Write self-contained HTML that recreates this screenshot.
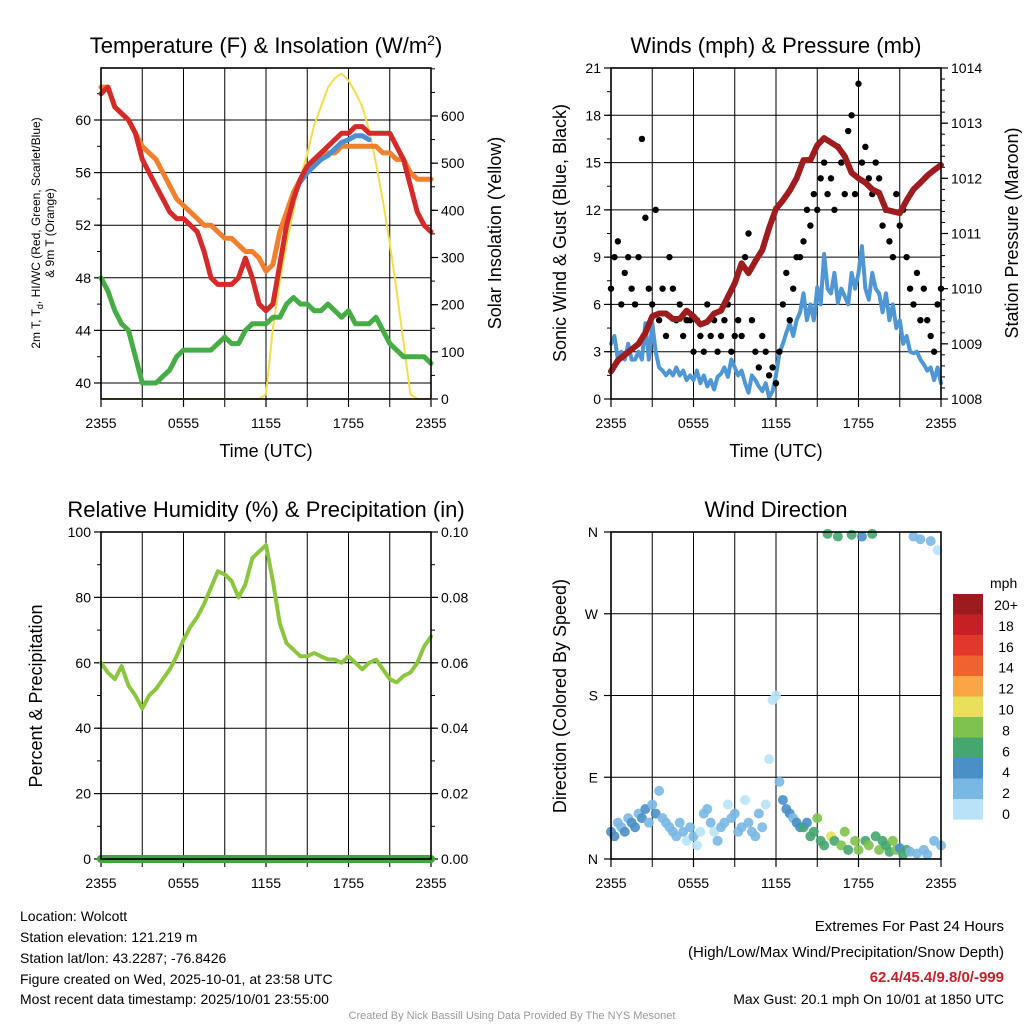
<!DOCTYPE html>
<html><head><meta charset="utf-8"><style>
html,body{margin:0;padding:0;background:#fff;}
svg{display:block;font-family:"Liberation Sans",sans-serif;}
</style></head><body>
<svg id="chart" width="1024" height="1024" viewBox="0 0 1024 1024" xmlns="http://www.w3.org/2000/svg">
<g id="layer"></g>
<g font-size="14" fill="#000">
<text x="20" y="921">Location: Wolcott</text>
<text x="20" y="942">Station elevation: 121.219 m</text>
<text x="20" y="963">Station lat/lon: 43.2287; -76.8426</text>
<text x="20" y="984">Figure created on Wed, 2025-10-01, at 23:58 UTC</text>
<text x="20" y="1004">Most recent data timestamp: 2025/10/01 23:55:00</text>
</g>
<g font-size="15" text-anchor="end">
<text x="1004" y="931">Extremes For Past 24 Hours</text>
<text x="1004" y="957">(High/Low/Max Wind/Precipitation/Snow Depth)</text>
<text x="1004" y="982" fill="#c8202a" font-weight="bold">62.4/45.4/9.8/0/-999</text>
<text x="1004" y="1004" font-size="14">Max Gust: 20.1 mph On 10/01 at 1850 UTC</text>
</g>
<text x="512" y="1019" font-size="11" fill="#999" text-anchor="middle">Created By Nick Bassill Using Data Provided By The NYS Mesonet</text>
</svg>
<script>
// ---- data (30-min samples from 2355 UTC) ----
const xTickLabels = ["2355","0555","1155","1755","2355"];
const tempRed = [62,62.5,61,60.5,60,59,57,56,55,54,53,52.5,52.5,52,51.5,50,48,47.5,47.5,47.5,48,49.5,48,46,45.5,46,49,52,54,55.5,56.5,57,57.5,58,58.5,59,59,59.5,59.5,59,59,59,59,58,57,55,53,52,51.5];
const tempOrange = [62.5,62.5,61,60.5,60,59,58,57.5,57,56,55,54,53.5,53,52.5,52,52,51.5,51,51,50.5,50,50,49.5,48.5,49,51.5,53,54.5,55.5,56,56.5,57,57.5,57.5,58,58,58,58,58,58,57.5,57.5,57,57,56,55.5,55.5,55.5];
const dewGreen = [48,47,45.5,44.5,44,42,40,40,40,40.5,41,42,42.5,42.5,42.5,42.5,42.5,43,43.5,43,43,44,44.5,44.5,44.5,45,45,46,46.5,46,46,45.5,45.5,46,45.5,45,45.5,44.5,44.5,44.5,45,44,43,42.5,42,42,42,42,41.5];
const hiwcBlue = [null,null,null,null,null,null,null,null,null,null,null,null,null,null,null,null,null,null,null,null,null,null,null,null,null,null,null,null,null,55.3,56,56.5,57,57.3,57.8,58.3,58.5,58.8,58.8,58.5,null,null,null,null,null,null,null,null,null];
const solar = [0,0,0,0,0,0,0,0,0,0,0,0,0,0,0,0,0,0,0,0,0,0,0,0,10,150,250,330,400,470,520,580,620,660,680,690,675,650,620,570,500,420,330,230,120,10,0,0,0];
const pressure = [1008.5,1008.7,1008.8,1008.9,1009.0,1009.2,1009.5,1009.55,1009.55,1009.45,1009.45,1009.6,1009.5,1009.35,1009.4,1009.55,1009.6,1009.85,1010.1,1010.46,1010.28,1010.5,1010.7,1011.1,1011.45,1011.6,1011.78,1012.0,1012.33,1012.33,1012.6,1012.73,1012.65,1012.57,1012.4,1012.1,1012.0,1011.92,1011.8,1011.74,1011.43,1011.4,1011.37,1011.6,1011.8,1011.92,1012.05,1012.15,1012.24];
const rh = [60,57,55,59,53,50,46,50,52,55,58,62,67,71,74,78,83,88,87,85,80,84,92,94,96,85,72,66,64,62,62,63,62,61,61,60,62,60,58,60,61,58,55,54,56,57,60,65,68];
const precip = [0,0,0,0,0,0,0,0,0,0,0,0,0,0,0,0,0,0,0,0,0,0,0,0,0,0,0,0,0,0,0,0,0,0,0,0,0,0,0,0,0,0,0,0,0,0,0,0,0];
// 15-min samples
const sonicWind = [3.5,4,2.5,3,2.5,3.5,2.5,2.5, 3,2.5,4.8,2.5,4.8,3,2,1.8, 1.5,1.8,1.5,2,1.5,1.8,1.2,1.5, 1.2,1.8,1,1.5,0.8,1.2,0.6,1.4, 1.6,2,1.4,2.5,2,1.5,1.8,1, 0.4,1.5,1.2,0.8,0.5,1,0.1,0.5, 1.5,2.9,3.5,4.2,4.8,4,5,5.5, 6.7,5,6,5,7.1,6,9.2,7, 6.7,8,6.1,7,6.5,6,8,7, 8,9.7,7,6.3,8,7,6.7,5.5, 6.7,5,6,4.5,5,3.5,4,3, 2.9,3,2.5,2.2,1.8,2,1.2,2, 1];
const gust = [7,9,10,6,8,9,7,6, 9,16.5,11.5,7,6,12,5,7, 4,9,7,5,6,4,5,5, 3,5,4,3,6,4,5,3, 4,5,6,3,4,5,4,9, 10.5,5,3,2,4,3,1.5,2, 1,3,6,8,5,7,9,9, 10,12,11,13,12,14,15,13, 14,12,16,15,13,17,18,13, 20,15,16,14,13,15,14,11, 12,10,9,13,11,12,9,7, 6,8,5,7,5,4,3,6, 7];
const windDir = [30,25,40,35,30,45,40,35, 50,45,55,40,60,50,75,45, 40,35,30,25,40,30,20,35, 25,15,30,50,55,40,30,20, 35,40,60,45,50,30,35,65, 40,30,25,50,35,60,110,175, 180,85,65,55,50,45,40,35, 35,40,25,30,45,20,15,358, 25,20,355,15,30,10,357,20, 10,355,20,15,358,25,10,20, 15,8,20,10,12,5,10,8, 355,6,352,10,5,350,20,340, 15];
const windSpd = [4,4,3,3,4,3,4,4, 3,4,4,3,2,4,3,3, 2,3,2,2,3,2,1,2, 2,1,1,3,2,2,1,2, 2,3,1,2,3,2,2,1, 2,2,3,2,2,1,1,1, 1,3,4,4,4,3,4,5, 6,5,6,7,8,6,7,6, 10,7,6,9,8,7,6,8, 9,4,7,8,6,7,8,6, 7,6,8,9,5,7,6,3, 3,2,3,2,2,3,2,1, 2];
const cbLabels = ["20+","18","16","14","12","10","8","6","4","2","0"];
const cbColors = ["#9b1b1e","#c42026","#e0382b","#f0632e","#f8a646","#e8e05a","#7fc24f","#46a670","#4a8fc6","#7ab8e4","#b8e2f8"];

const NS="http://www.w3.org/2000/svg";
const layer=document.getElementById('layer');
function mk(tag,attrs,parent){const e=document.createElementNS(NS,tag);for(const k in attrs)e.setAttribute(k,attrs[k]);(parent||layer).appendChild(e);return e;}
function lin(d0,d1,r0,r1){return v=>r0+(v-d0)*(r1-r0)/(d1-d0);}
function txt(x,y,s,attrs,parent){const t=mk('text',Object.assign({x:x,y:y},attrs||{}),parent);t.textContent=s;return t;}

function panel(px0,px1,py0,py1,title,name){
  const g=mk('g',{});
  
  
  const X=lin(0,24,px0,px1);
  for(let h=3;h<24;h+=3){const l=mk('line',{x1:X(h),x2:X(h),y1:py0,y2:py1,stroke:'#000','stroke-width':1},g);
    }
  xTickLabels.forEach((s,i)=>{const h=i*6;
    mk('line',{x1:X(h),x2:X(h),y1:py1,y2:py1+8,stroke:'#000','stroke-width':1.2},g);
    const t=txt(X(h),py1+29,s,{'font-size':14,'text-anchor':'middle'},g);
    });
  for(let h=0;h<=24;h+=3){mk('line',{x1:X(h),x2:X(h),y1:py1,y2:py1+8,stroke:'#000','stroke-width':1},g);}
  const tt=txt((px0+px1)/2,py0-15,title,{'font-size':22,'text-anchor':'middle'},g);
  
  return {g,X};
}
function frame(g,px0,px1,py0,py1){const r=mk('rect',{x:px0,y:py0,width:px1-px0,height:py1-py0,fill:'none',stroke:'#000','stroke-width':1.6},g);
  }
function yAxis(g,side,x,Y,ticks,fmt,minorStep,lo,hi,grid,px0,px1){
  const dir=side==='left'?-1:1;
  ticks.forEach(v=>{const y=Y(v);
    if(grid){mk('line',{x1:px0,x2:px1,y1:y,y2:y,stroke:'#000','stroke-width':1},g);}
    mk('line',{x1:x,x2:x+dir*7,y1:y,y2:y,stroke:'#000','stroke-width':1.2},g);
    const t=txt(x+dir*10,y+5,fmt(v),{'font-size':14,'text-anchor':side==='left'?'end':'start'},g);
    });
  if(minorStep){for(let v=lo;v<=hi+1e-9;v+=minorStep){mk('line',{x1:x,x2:x+dir*4,y1:Y(v),y2:Y(v),stroke:'#000','stroke-width':1},g);}}
}
function linePath(g,X,Y,arr,step,color,w,name){
  let d='',pen=false;
  arr.forEach((v,i)=>{if(v===null){pen=false;return;}d+=(pen?'L':'M')+X(i*step).toFixed(1)+','+Y(v).toFixed(1);pen=true;});
  const p=mk('path',{d:d,fill:'none',stroke:color,'stroke-width':w,'stroke-linejoin':'round','stroke-linecap':'round'},g);
  return p;
}
function rotLabel(g,x,y,s,size,name){const t=txt(x,y,s,{'font-size':size,'text-anchor':'middle',transform:`rotate(-90 ${x} ${y})`},g);
  return t;}

// ---- Panel 1: Temperature ----
{const x0=101,x1=431,y0=68,y1=399;
 const {g,X}=panel(x0,x1,y0,y1,'',"temperature-panel");
 const T=txt(266,53,'Temperature (F) & Insolation (W/m',{'font-size':22,'text-anchor':'middle'},g);
 const sup=mk('tspan',{dy:-8,'font-size':14},T);sup.textContent='2';
 const sup2=mk('tspan',{dy:8},T);sup2.textContent=')';
 
 const Y=lin(40,60,383,120); const YS=lin(0,600,399,116);
 yAxis(g,'left',x0,Y,[40,44,48,52,56,60],v=>v,2,40,62,true,x0,x1);
 yAxis(g,'right',x1,YS,[0,100,200,300,400,500,600],v=>v,50,0,700,false);
 linePath(g,X,YS,solar,0.5,'#f5dc4c',2,'solar-insolation-line');
 linePath(g,X,Y,tempOrange,0.5,'#f07f2e',5,'9m-temperature-line');
 linePath(g,X,Y,hiwcBlue,0.5,'#4a90d0',5,'heat-index-wind-chill-line');
 linePath(g,X,Y,tempRed,0.5,'#d42a2a',5,'2m-temperature-line');
 linePath(g,X,Y,dewGreen,0.5,'#46ad46',5,'dewpoint-line');
 frame(g,x0,x1,y0,y1);
 const a=txt(40,233,'2m T, T',{'font-size':12,'text-anchor':'middle',transform:'rotate(-90 40 233)'},g);
 const s=mk('tspan',{dy:3,'font-size':9},a);s.textContent='d';
 const s2=mk('tspan',{dy:-3},a);s2.textContent=', HI/WC (Red, Green, Scarlet/Blue)';
 
 rotLabel(g,54,233,'& 9m T (Orange)',12,'y-axis-title-left-line2');
 rotLabel(g,501,233,'Solar Insolation (Yellow)',18,'y-axis-title-right');
 const xt=txt(266,457,'Time (UTC)',{'font-size':18,'text-anchor':'middle'},g);
 }

// ---- Panel 2: Winds ----
{const x0=611,x1=941,y0=68,y1=399;
 const {g,X}=panel(x0,x1,y0,y1,'Winds (mph) & Pressure (mb)',"winds-panel");
 const Y=lin(0,21,399,68); const YP=lin(1008,1014,399,68);
 yAxis(g,'left',x0,Y,[0,3,6,9,12,15,18,21],v=>v,1.5,0,21,true,x0,x1);
 yAxis(g,'right',x1,YP,[1008,1009,1010,1011,1012,1013,1014],v=>v,0.2,1008,1014,false);
 linePath(g,X,Y,sonicWind,0.25,'#4f96d4',4,'sonic-wind-line');
 gust.forEach((v,i)=>{const c=mk('circle',{cx:X(i*0.25),cy:Y(v),r:3.2,fill:'#000'},g);
   });
 linePath(g,X,YP,pressure,0.5,'#9e1b1e',6,'pressure-line');
 frame(g,x0,x1,y0,y1);
 rotLabel(g,566,233,'Sonic Wind & Gust (Blue, Black)',18,'y-axis-title-left');
 rotLabel(g,1018,233,'Station Pressure (Maroon)',18,'y-axis-title-right');
 const xt=txt(776,457,'Time (UTC)',{'font-size':18,'text-anchor':'middle'},g);
 }

// ---- Panel 3: RH ----
{const x0=101,x1=431,y0=532,y1=859;
 const {g,X}=panel(x0,x1,y0,y1,'Relative Humidity (%) & Precipitation (in)',"humidity-panel");
 const Y=lin(0,100,859,532); const YR=lin(0,0.1,859,532);
 yAxis(g,'left',x0,Y,[0,20,40,60,80,100],v=>v,10,0,100,true,x0,x1);
 yAxis(g,'right',x1,YR,[0,0.02,0.04,0.06,0.08,0.1],v=>v.toFixed(2),0.01,0,0.1,false);
 linePath(g,X,YR,precip,0.5,'#3fa63f',8,'precipitation-line');
 linePath(g,X,Y,rh,0.5,'#8cc63f',4,'relative-humidity-line');
 frame(g,x0,x1,y0,y1);
 rotLabel(g,42,696,'Percent & Precipitation',18,'y-axis-title-left');}

// ---- Panel 4: Wind direction ----
{const x0=611,x1=941,y0=532,y1=859;
 const {g,X}=panel(x0,x1,y0,y1,'Wind Direction',"wind-direction-panel");
 const Y=lin(0,360,859,532);
 const dirLabels=['N','E','S','W','N'];
 [0,90,180,270,360].forEach((v,i)=>{const y=Y(v);mk('line',{x1:x0,x2:x1,y1:y,y2:y,stroke:'#000','stroke-width':1},g);
   mk('line',{x1:x0,x2:x0-7,y1:y,y2:y,stroke:'#000','stroke-width':1.2},g);
   const t=txt(x0-13,y+5,dirLabels[i],{'font-size':14,'text-anchor':'end'},g);
   });
 windDir.forEach((v,i)=>{const b=Math.min(10,Math.floor(windSpd[i]/2));
   const c=mk('circle',{cx:X(i*0.25),cy:Y(v),r:5,fill:cbColors[10-b],opacity:0.9},g);
   });
 frame(g,x0,x1,y0,y1);
 rotLabel(g,566,696,'Direction (Colored By Speed)',18,'y-axis-title-left');
 const cb=mk('g',{},g);
 
 const u=txt(990,588,'mph',{'font-size':14},cb);
 cbColors.forEach((c,i)=>{mk('rect',{x:953,y:594+i*20.5,width:30,height:20.6,fill:c},cb);
   const t=txt(1006,610+i*20.9,cbLabels[i],{'font-size':14,'text-anchor':'middle'},cb);
   });}
</script>
</body></html>
